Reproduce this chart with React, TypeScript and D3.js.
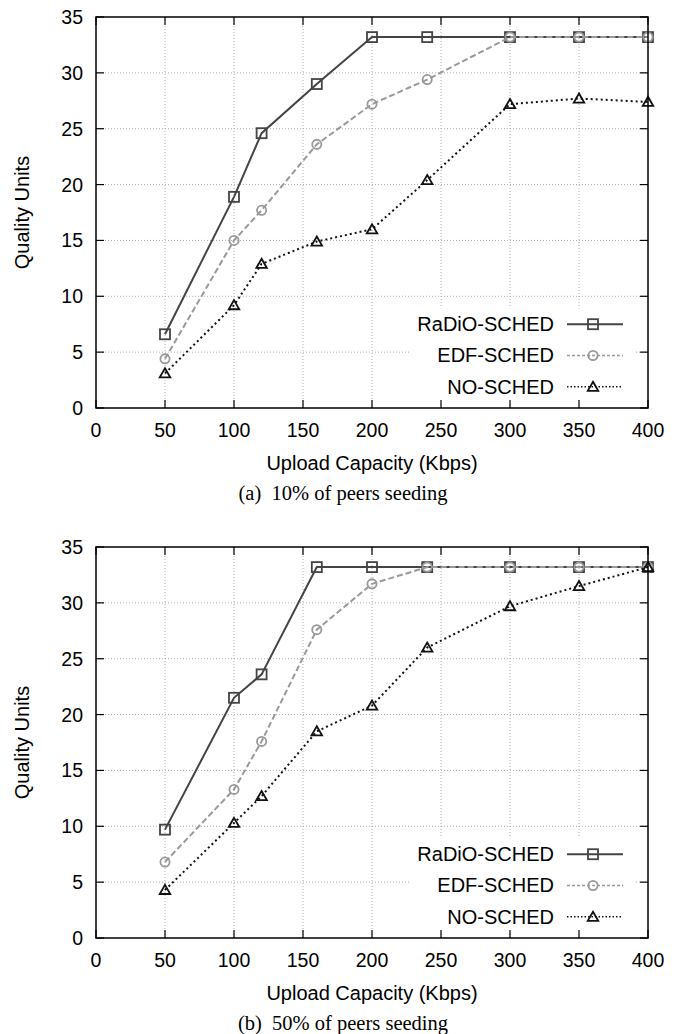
import React from "react";
import * as d3 from "d3";

// x values (Kbps) shared by every series
const capacities = [50, 100, 120, 160, 200, 240, 300, 350, 400];

// (a) 10% of peers seeding
const radioA = [6.6, 18.9, 24.6, 29.0, 33.2, 33.2, 33.2, 33.2, 33.2];
const edfA = [4.4, 15.0, 17.7, 23.6, 27.2, 29.4, 33.2, 33.2, 33.2];
const noA = [3.1, 9.2, 12.9, 14.9, 16.0, 20.4, 27.2, 27.7, 27.4];

// (b) 50% of peers seeding
const radioB = [9.7, 21.5, 23.6, 33.2, 33.2, 33.2, 33.2, 33.2, 33.2];
const edfB = [6.8, 13.3, 17.6, 27.6, 31.7, 33.2, 33.2, 33.2, 33.2];
const noB = [4.3, 10.3, 12.7, 18.5, 20.8, 26.0, 29.7, 31.5, 33.2];

const xTicks = [0, 50, 100, 150, 200, 250, 300, 350, 400];
const yTicks = [0, 5, 10, 15, 20, 25, 30, 35];
const seriesNames = ["RaDiO-SCHED", "EDF-SCHED", "NO-SCHED"];

const W = 681;
const H = 1034;
const sans = "'Liberation Sans', Arial, sans-serif";
const serif = "'Liberation Serif', 'Times New Roman', serif";

const styles = [
  { color: "#444", dash: "none", marker: "square" },
  { color: "#999", dash: "6,3", marker: "circle" },
  { color: "#111", dash: "2,3", marker: "triangle" },
];

function Marker({ kind, x, y, color }: { kind: string; x: number; y: number; color: string }) {
  if (kind === "square")
    return <rect x={x - 5} y={y - 5} width={10} height={10} fill="none" stroke={color} strokeWidth={1.8} />;
  if (kind === "circle")
    return <circle cx={x} cy={y} r={4.6} fill="none" stroke={color} strokeWidth={1.8} />;
  const path = d3.symbol(d3.symbolTriangle, 48)();
  return <path d={path || ""} transform={`translate(${x},${y + 1})`} fill="none" stroke={color} strokeWidth={1.8} />;
}

function Panel({ top, series, caption }: { top: number; series: number[][]; caption: string }) {
  const left = 96, right = 648, bottom = top + 391;
  const x = d3.scaleLinear([0, 400], [left, right]);
  const y = d3.scaleLinear([0, 35], [bottom, top]);
  const line = d3
    .line<number>()
    .x((_, i) => x(capacities[i]))
    .y((d) => y(d));

  const legendRows = [y(7.5), y(4.7), y(1.9)];

  return (
    <g>
      {/* grid */}
      {xTicks.slice(1, -1).map((t) => (
        <line key={"gx" + t} x1={x(t)} x2={x(t)} y1={top} y2={bottom} stroke="#999" strokeWidth={0.8} strokeDasharray="1,2" />
      ))}
      {yTicks.slice(1, -1).map((t) => (
        <line key={"gy" + t} x1={left} x2={right} y1={y(t)} y2={y(t)} stroke="#999" strokeWidth={0.8} strokeDasharray="1,2" />
      ))}
      {/* legend background */}
      <rect x={410} y={legendRows[0] - 16} width={226} height={legendRows[2] - legendRows[0] + 32} fill="#fff" />

      {/* series */}
      {series.map((vals, si) => (
        <g key={"s" + si}>
          <path d={line(vals) || ""} fill="none" stroke={styles[si].color} strokeWidth={2} strokeDasharray={styles[si].dash} />
          {vals.map((v, i) => (
            <Marker key={i} kind={styles[si].marker} x={x(capacities[i])} y={y(v)} color={styles[si].color} />
          ))}
        </g>
      ))}

      {/* frame and ticks */}
      <rect x={left} y={top} width={right - left} height={bottom - top} fill="none" stroke="#000" strokeWidth={1.5} />
      {xTicks.map((t) => (
        <g key={"tx" + t}>
          <line x1={x(t)} x2={x(t)} y1={bottom} y2={bottom - 8} stroke="#000" strokeWidth={1.2} />
          <line x1={x(t)} x2={x(t)} y1={top} y2={top + 8} stroke="#000" strokeWidth={1.2} />
          <text x={x(t)} y={bottom + 29} textAnchor="middle" fontFamily={sans} fontSize={19.5}>
            {t}
          </text>
        </g>
      ))}
      {yTicks.map((t) => (
        <g key={"ty" + t}>
          <line x1={left} x2={left + 8} y1={y(t)} y2={y(t)} stroke="#000" strokeWidth={1.2} />
          <line x1={right} x2={right - 8} y1={y(t)} y2={y(t)} stroke="#000" strokeWidth={1.2} />
          <text x={left - 13} y={y(t) + 7} textAnchor="end" fontFamily={sans} fontSize={19.5}>
            {t}
          </text>
        </g>
      ))}

      {/* legend */}
      {seriesNames.map((name, si) => (
        <g key={name}>
          <text x={554} y={legendRows[si] + 7} textAnchor="end" fontFamily={sans} fontSize={20}>
            {name}
          </text>
          <line x1={567} x2={623} y1={legendRows[si]} y2={legendRows[si]} stroke={styles[si].color} strokeWidth={si === 0 ? 2 : 1.6} strokeDasharray={si === 2 ? "1.5,2" : si === 1 ? "3,2" : "none"} />
          <Marker kind={styles[si].marker} x={593} y={legendRows[si]} color={styles[si].color} />
        </g>
      ))}

      {/* axis titles */}
      <text x={(left + right) / 2} y={bottom + 62} textAnchor="middle" fontFamily={sans} fontSize={20}>
        Upload Capacity (Kbps)
      </text>
      <text transform={`translate(29,${(top + bottom) / 2}) rotate(-90)`} textAnchor="middle" fontFamily={sans} fontSize={20}>
        Quality Units
      </text>
      <text x={343} y={bottom + 92} textAnchor="middle" fontFamily={serif} fontSize={20.5} xmlSpace="preserve">
        {caption}
      </text>
    </g>
  );
}

export default function App() {
  return (
    <svg width={W} height={H} style={{ position: "absolute", left: 0, top: 0, background: "#fff" }}>
      <Panel top={17} series={[radioA, edfA, noA]} caption="(a)  10% of peers seeding" />
      <Panel top={547} series={[radioB, edfB, noB]} caption="(b)  50% of peers seeding" />
    </svg>
  );
}
